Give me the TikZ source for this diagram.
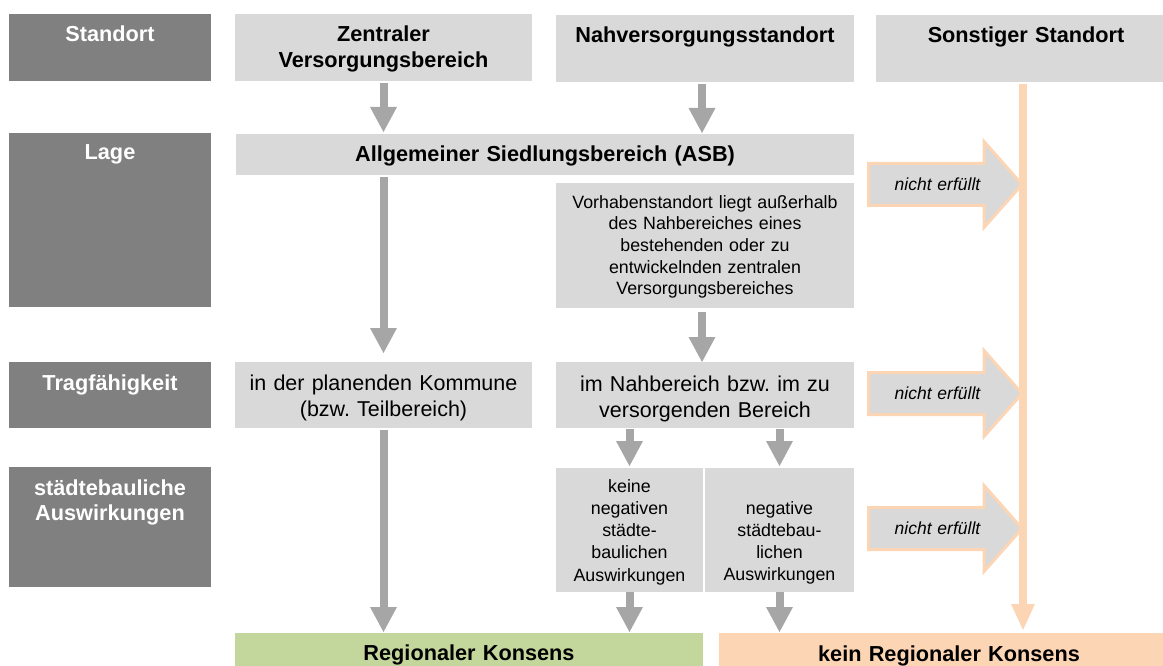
\documentclass[tikz,border=0pt]{standalone}
\usepackage{fontspec}
\setmainfont{Liberation Sans}
\usetikzlibrary{arrows.meta}
\definecolor{dgray}{HTML}{808080}
\definecolor{lgray}{HTML}{D9D9D9}
\definecolor{agray}{HTML}{A6A6A6}
\definecolor{peach}{HTML}{FCD5B5}
\definecolor{lgreen}{HTML}{C3D69B}
\frenchspacing
\newcommand{\notarrow}[1]{%
  \filldraw[barrow] (868.5,#1-21) -- (984,#1-21) -- (984,#1-43) -- (1022,#1) -- (984,#1+43) -- (984,#1+21) -- (868.5,#1+21) -- cycle;}
\begin{document}
\begin{tikzpicture}[x=1pt,y=-1pt,
  dbox/.style={fill=dgray,inner sep=0pt,outer sep=0pt},
  lbox/.style={fill=lgray,inner sep=0pt,outer sep=0pt},
  gbox/.style={fill=lgreen,inner sep=0pt,outer sep=0pt},
  obox/.style={fill=peach,inner sep=0pt,outer sep=0pt},
  txt/.style={inner sep=0pt,anchor=base,align=center,text width=#1},
  txt/.default=300pt,
  hw/.style={txt=200pt,text=white,font=\fontsize{21.7}{25.5}\selectfont\bfseries\frenchspacing},
  hb/.style={txt,font=\fontsize{21.7}{25.5}\selectfont\bfseries\frenchspacing},
  mt/.style={txt,font=\fontsize{21.5}{26.5}\selectfont\frenchspacing},
  st/.style={txt=150pt,font=\fontsize{17.8}{22.3}\selectfont\frenchspacing},
  vt/.style={txt,font=\fontsize{17.8}{21.7}\selectfont\frenchspacing},
  it/.style={txt=150pt,font=\fontsize{17.5}{21}\selectfont\itshape},
  garrow/.style={draw=agray,line width=8pt,-{Triangle[width=27pt,length=25pt,line width=0pt]}},
  oarrow/.style={draw=peach,line width=8pt,-{Triangle[width=24pt,length=26pt,line width=0pt]}},
  barrow/.style={draw=peach,fill=lgray,line width=3pt,line join=miter}
]
\useasboundingbox (0,0) rectangle (1163,666);
\clip (0,0) rectangle (1163,666);

% left category boxes
\node[dbox,minimum width=202pt,minimum height=67pt] (sd) at (110,47.5) {};
\node[dbox,minimum width=202pt,minimum height=174pt] (lage) at (110,220) {};
\node[dbox,minimum width=202pt,minimum height=66pt] (trag) at (110,395) {};
\node[dbox,minimum width=202pt,minimum height=120pt] (stb) at (110,527) {};
\node[hw] (tsd) at (110,42) {Standort};
\node[hw] (tlage) at (110,160) {Lage};
\node[hw] (ttrag) at (110,390) {Tragfähigkeit};
\node[hw] (tstb) at (110,495) {städtebauliche\\Auswirkungen};

% header boxes
\node[lbox,minimum width=297pt,minimum height=67pt] (zv) at (383.5,47.5) {};
\node[lbox,minimum width=298pt,minimum height=67pt] (nv) at (705,48.5) {};
\node[lbox,minimum width=300pt,minimum height=67pt] (so) at (1026,48.5) {};
\node[hb] (tzv) at (383.5,42) {Zentraler\\Versorgungsbereich};
\node[hb] (tnv) at (705,43) {Nahversorgungsstandort};
\node[hb] (tso) at (1026,43) {Sonstiger Standort};

% Lage
\node[lbox,minimum width=618pt,minimum height=41pt] (asb) at (545,154.5) {};
\node[hb,text width=618pt] (tasb) at (545,162) {Allgemeiner Siedlungsbereich (ASB)};
\node[lbox,minimum width=298pt,minimum height=125pt] (vorh) at (705,245.5) {};
\node[vt] (tvorh) at (705,208) {Vorhabenstandort liegt außerhalb\\des Nahbereiches eines\\bestehenden oder zu\\entwickelnden zentralen\\Versorgungsbereiches};

% Tragfaehigkeit
\node[lbox,minimum width=297pt,minimum height=66pt] (kom) at (383.5,395) {};
\node[mt] (tkom) at (383.5,390) {in der planenden Kommune\\(bzw. Teilbereich)};
\node[lbox,minimum width=298pt,minimum height=66pt] (nah) at (705,395) {};
\node[mt] (tnah) at (705,391) {im Nahbereich bzw. im zu\\versorgenden Bereich};

% staedtebauliche Auswirkungen
\node[lbox,minimum width=147pt,minimum height=124pt] (keine) at (629.5,530) {};
\node[st] (tkeine) at (629.5,492) {keine\\negativen\\städte-\\baulichen\\Auswirkungen};
\node[lbox,minimum width=149pt,minimum height=124pt] (neg) at (779.5,530) {};
\node[st] (tneg) at (779.5,514) {negative\\städtebau-\\lichen\\Auswirkungen};

% results
\node[gbox,minimum width=468pt,minimum height=57pt] (green) at (469,661.5) {};
\node[hb] (tgreen) at (469,660) {Regionaler Konsens};
\node[obox,minimum width=460pt,minimum height=57pt] (kein) at (949,661.5) {};
\node[hb,text width=460pt] (tkein) at (949,661) {kein Regionaler Konsens};

% "nicht erfuellt" block arrows
\notarrow{184.5}
\notarrow{393.5}
\notarrow{528.5}
\node[it] (ne1) at (937.5,190) {nicht erfüllt};
\node[it] (ne2) at (937.5,399.5) {nicht erfüllt};
\node[it] (ne3) at (937.5,534.5) {nicht erfüllt};

% orange line
\draw[oarrow,shorten <=2pt,shorten >=3pt] ([xshift=-3pt]so.south) -- ([xshift=-3pt]so.south |- kein.north);

% gray arrows
\draw[garrow,shorten <=2pt,shorten >=2pt] (zv.south) -- (zv.south |- asb.north);
\draw[garrow,shorten <=2pt,shorten >=1pt] ([xshift=-3pt]nv.south) -- ([xshift=-3pt]nv.south |- asb.north);
\draw[garrow,shorten <=2pt,shorten >=9pt] (zv.south |- asb.south) -- (kom.north);
\draw[garrow,shorten <=4pt] ([xshift=-3pt]vorh.south) -- ([xshift=-3pt]nah.north);
\draw[garrow,shorten <=1pt,shorten >=2pt] (nah.south -| keine.north) -- (keine.north);
\draw[garrow,shorten <=1pt,shorten >=2pt] (nah.south -| neg.north) -- (neg.north);
\draw[garrow,shorten <=2pt,shorten >=1pt] (kom.south) -- (kom.south |- green.north);
\draw[garrow,shorten >=1pt] (keine.south) -- (keine.south |- green.north);
\draw[garrow,shorten >=1pt] (neg.south) -- (neg.south |- kein.north);
\end{tikzpicture}
\end{document}
